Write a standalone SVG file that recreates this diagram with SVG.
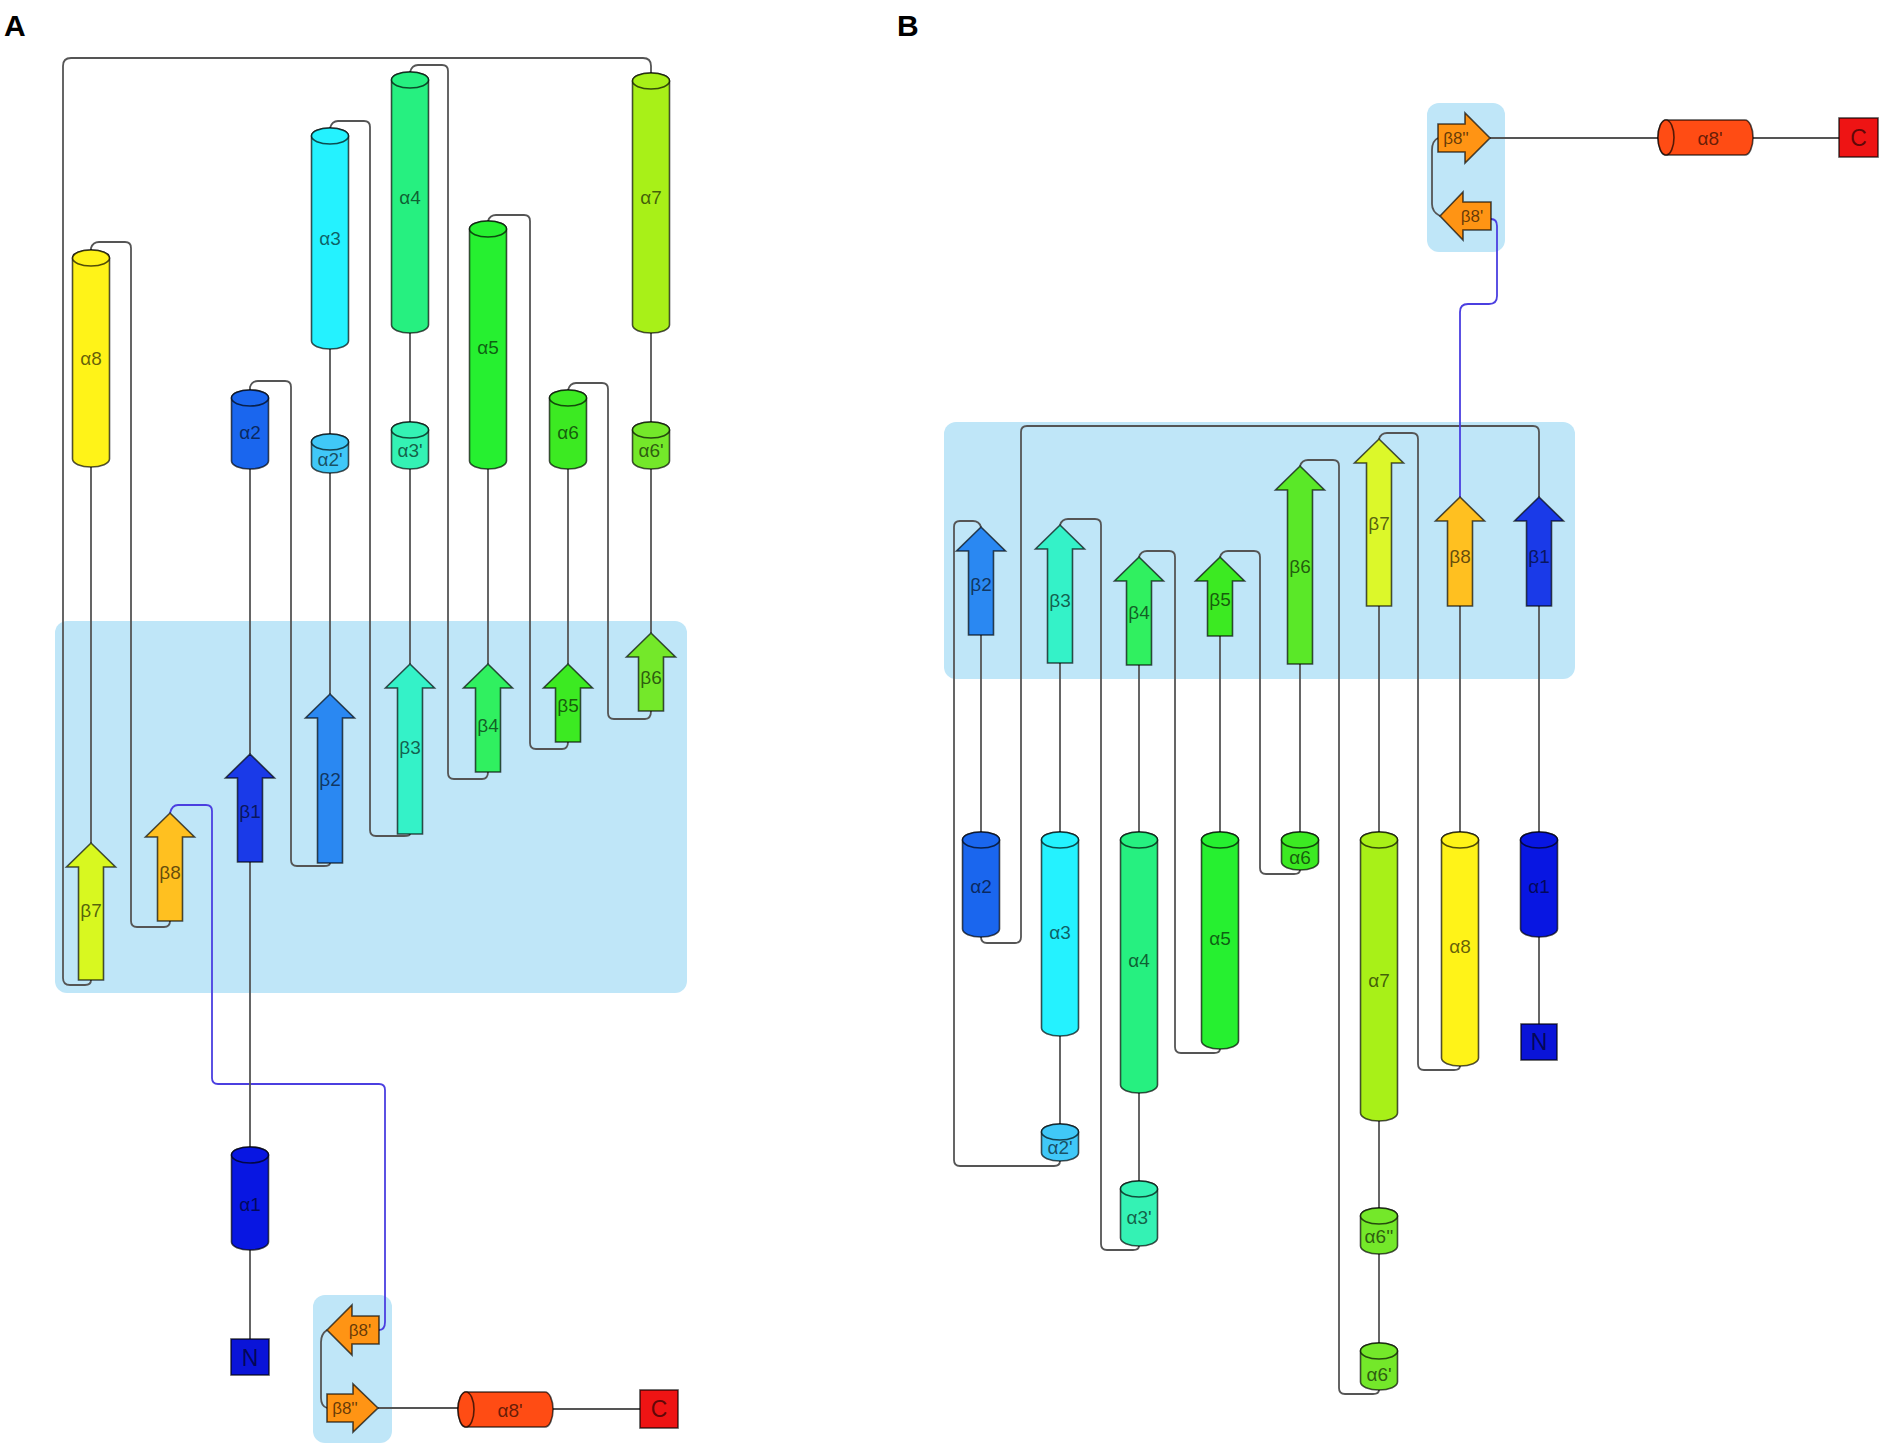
<svg xmlns="http://www.w3.org/2000/svg" width="1900" height="1450" viewBox="0 0 1900 1450">
<style>
.bg{fill:#ffffff}
.shade{fill:#bfe6f8}
.ln{fill:none;stroke:#555;stroke-width:1.8}
.bl{fill:none;stroke:#4b3fe0;stroke-width:1.8}
.sh{stroke:#000;stroke-opacity:.68;stroke-width:1.6}
.lb{font-family:"Liberation Sans",Arial,sans-serif;font-size:19px;text-anchor:middle;dominant-baseline:central;fill:#000;fill-opacity:.62}
.sm{font-size:17px}
.pl{font-family:"Liberation Sans",Arial,sans-serif;font-size:30px;font-weight:bold;fill:#000}
</style>
<rect class="bg" x="0" y="0" width="1900" height="1450"/>
<text class="pl" x="4" y="36">A</text>
<text class="pl" x="897" y="36">B</text>
<g id="shades">
<rect class="shade" x="55" y="621" width="632" height="372" rx="12"/>
<rect class="shade" x="313" y="1295" width="79" height="148" rx="12"/>
<rect class="shade" x="944" y="422" width="631" height="257" rx="12"/>
<rect class="shade" x="1427" y="103" width="78" height="149" rx="12"/>
</g>
<g id="connectors">
<path class="ln" d="M651,73 V66 Q651,58 643,58 H71 Q63,58 63,66 V978 Q63,985 70,985 H85 Q91,985 91,980"/>
<path class="ln" d="M91,250 V248 Q93,242 99,242 H125 Q131,242 131,248 V921 Q131,927 137,927 H164 Q170,927 170,921"/>
<path class="ln" d="M91,843 V467"/>
<path class="bl" d="M170,813 Q172,805 178,805 H206 Q212,805 212,811 V1078 Q212,1084 218,1084 H379 Q385,1084 385,1090 V1322 Q385,1330 379,1330"/>
<path class="ln" d="M250,1339 V1250 M250,1147 V862 M250,754 V469"/>
<path class="ln" d="M250,390 V387 Q252,381 258,381 H285 Q291,381 291,387 V860 Q291,866 297,866 H324 Q330,866 330,863"/>
<path class="ln" d="M330,694 V473 M330,434 V349"/>
<path class="ln" d="M330,128 Q332,121 338,121 H364 Q370,121 370,127 V830 Q370,836 376,836 H404 Q410,836 410,834"/>
<path class="ln" d="M410,664 V469 M410,422 V333"/>
<path class="ln" d="M410,72 Q412,65 418,65 H442 Q448,65 448,71 V773 Q448,779 454,779 H482 Q488,779 488,772"/>
<path class="ln" d="M488,664 V469"/>
<path class="ln" d="M488,221 Q490,215 496,215 H524 Q530,215 530,221 V743 Q530,749 536,749 H562 Q568,749 568,742"/>
<path class="ln" d="M568,664 V469"/>
<path class="ln" d="M568,390 Q570,383 576,383 H602 Q608,383 608,389 V713 Q608,719 614,719 H645 Q651,719 651,711"/>
<path class="ln" d="M651,633 V469 M651,422 V333"/>
<path class="ln" d="M327,1330 Q321,1334 321,1342 V1398 Q321,1406 327,1408"/>
<path class="ln" d="M378,1408 H458 M553,1409 H640"/>
<path class="ln" d="M1539,497 V432 Q1539,426 1533,426 H1027 Q1021,426 1021,432 V937 Q1021,943 1015,943 H987 Q981,943 981,937"/>
<path class="ln" d="M981,832 V635"/>
<path class="ln" d="M981,527 Q979,521 973,521 H960 Q954,521 954,527 V1160 Q954,1166 960,1166 H1054 Q1060,1166 1060,1161"/>
<path class="ln" d="M1060,1124 V1036 M1060,832 V663"/>
<path class="ln" d="M1060,525 Q1062,519 1068,519 H1095 Q1101,519 1101,525 V1244 Q1101,1250 1107,1250 H1133 Q1139,1250 1139,1246"/>
<path class="ln" d="M1139,1181 V1093 M1139,832 V665"/>
<path class="ln" d="M1139,557 Q1141,551 1147,551 H1169 Q1175,551 1175,557 V1047 Q1175,1053 1181,1053 H1214 Q1220,1053 1220,1049"/>
<path class="ln" d="M1220,832 V636"/>
<path class="ln" d="M1220,557 Q1222,551 1228,551 H1254 Q1260,551 1260,557 V868 Q1260,874 1266,874 H1294 Q1300,874 1300,870"/>
<path class="ln" d="M1300,832 V664"/>
<path class="ln" d="M1300,466 Q1302,460 1308,460 H1333 Q1339,460 1339,466 V1388 Q1339,1394 1345,1394 H1373 Q1379,1394 1379,1390"/>
<path class="ln" d="M1379,1343 V1254 M1379,1208 V1121 M1379,832 V606"/>
<path class="ln" d="M1379,439 Q1381,433 1387,433 H1412 Q1418,433 1418,439 V1064 Q1418,1070 1424,1070 H1454 Q1460,1070 1460,1066"/>
<path class="ln" d="M1460,832 V606"/>
<path class="bl" d="M1460,497 V312 Q1460,304 1468,304 H1489 Q1497,304 1497,296 V226 Q1497,219 1491,219"/>
<path class="ln" d="M1440,216 Q1432,212 1432,204 V150 Q1432,141 1438,138"/>
<path class="ln" d="M1490,138 H1658 M1753,138 H1839"/>
<path class="ln" d="M1539,606 V832 M1539,937 V1024"/>
</g>
<g id="A-a8" transform="translate(91,0)"><path class="sh" fill="#fff318" d="M-18.5,258 V459 A18.5,8 0 0 0 18.5,459 V258 A18.5,8 0 0 0 -18.5,258 Z"/><ellipse class="sh" fill="#fff318" cx="0" cy="258" rx="18.5" ry="8"/><text class="lb" x="0" y="358">α8</text></g>
<g id="A-a2" transform="translate(250,0)"><path class="sh" fill="#1a66ee" d="M-18.5,398 V461 A18.5,8 0 0 0 18.5,461 V398 A18.5,8 0 0 0 -18.5,398 Z"/><ellipse class="sh" fill="#1a66ee" cx="0" cy="398" rx="18.5" ry="8"/><text class="lb" x="0" y="432">α2</text></g>
<g id="A-a3" transform="translate(330,0)"><path class="sh" fill="#24f2ff" d="M-18.5,136 V341 A18.5,8 0 0 0 18.5,341 V136 A18.5,8 0 0 0 -18.5,136 Z"/><ellipse class="sh" fill="#24f2ff" cx="0" cy="136" rx="18.5" ry="8"/><text class="lb" x="0" y="238">α3</text></g>
<g id="A-a2p" transform="translate(330,0)"><path class="sh" fill="#40c8f8" d="M-18.5,442 V465 A18.5,8 0 0 0 18.5,465 V442 A18.5,8 0 0 0 -18.5,442 Z"/><ellipse class="sh" fill="#40c8f8" cx="0" cy="442" rx="18.5" ry="8"/><text class="lb" x="0" y="459">α2'</text></g>
<g id="A-a4" transform="translate(410,0)"><path class="sh" fill="#26f080" d="M-18.5,80 V325 A18.5,8 0 0 0 18.5,325 V80 A18.5,8 0 0 0 -18.5,80 Z"/><ellipse class="sh" fill="#26f080" cx="0" cy="80" rx="18.5" ry="8"/><text class="lb" x="0" y="197">α4</text></g>
<g id="A-a3p" transform="translate(410,0)"><path class="sh" fill="#34f2b4" d="M-18.5,430 V461 A18.5,8 0 0 0 18.5,461 V430 A18.5,8 0 0 0 -18.5,430 Z"/><ellipse class="sh" fill="#34f2b4" cx="0" cy="430" rx="18.5" ry="8"/><text class="lb" x="0" y="450">α3'</text></g>
<g id="A-a5" transform="translate(488,0)"><path class="sh" fill="#26f030" d="M-18.5,229 V461 A18.5,8 0 0 0 18.5,461 V229 A18.5,8 0 0 0 -18.5,229 Z"/><ellipse class="sh" fill="#26f030" cx="0" cy="229" rx="18.5" ry="8"/><text class="lb" x="0" y="347">α5</text></g>
<g id="A-a6" transform="translate(568,0)"><path class="sh" fill="#3cea22" d="M-18.5,398 V461 A18.5,8 0 0 0 18.5,461 V398 A18.5,8 0 0 0 -18.5,398 Z"/><ellipse class="sh" fill="#3cea22" cx="0" cy="398" rx="18.5" ry="8"/><text class="lb" x="0" y="432">α6</text></g>
<g id="A-a7" transform="translate(651,0)"><path class="sh" fill="#a8f018" d="M-18.5,81 V325 A18.5,8 0 0 0 18.5,325 V81 A18.5,8 0 0 0 -18.5,81 Z"/><ellipse class="sh" fill="#a8f018" cx="0" cy="81" rx="18.5" ry="8"/><text class="lb" x="0" y="197">α7</text></g>
<g id="A-a6p" transform="translate(651,0)"><path class="sh" fill="#74e82a" d="M-18.5,430 V461 A18.5,8 0 0 0 18.5,461 V430 A18.5,8 0 0 0 -18.5,430 Z"/><ellipse class="sh" fill="#74e82a" cx="0" cy="430" rx="18.5" ry="8"/><text class="lb" x="0" y="450">α6'</text></g>
<g id="A-a1" transform="translate(250,0)"><path class="sh" fill="#0816e2" d="M-18.5,1155 V1242 A18.5,8 0 0 0 18.5,1242 V1155 A18.5,8 0 0 0 -18.5,1155 Z"/><ellipse class="sh" fill="#0816e2" cx="0" cy="1155" rx="18.5" ry="8"/><text class="lb" x="0" y="1204">α1</text></g>
<g id="A-b7" transform="translate(91,0)"><path class="sh" fill="#d8f820" d="M0,843 L24.5,867 L12.5,867 L12.5,980 L-12.5,980 L-12.5,867 L-24.5,867 Z"/><text class="lb" x="0" y="910">β7</text></g>
<g id="A-b8" transform="translate(170,0)"><path class="sh" fill="#ffc020" d="M0,813 L24.5,837 L12.5,837 L12.5,921 L-12.5,921 L-12.5,837 L-24.5,837 Z"/><text class="lb" x="0" y="872">β8</text></g>
<g id="A-b1" transform="translate(250,0)"><path class="sh" fill="#1a3ae8" d="M0,754 L24.5,778 L12.5,778 L12.5,862 L-12.5,862 L-12.5,778 L-24.5,778 Z"/><text class="lb" x="0" y="811">β1</text></g>
<g id="A-b2" transform="translate(330,0)"><path class="sh" fill="#2a88f2" d="M0,694 L24.5,718 L12.5,718 L12.5,863 L-12.5,863 L-12.5,718 L-24.5,718 Z"/><text class="lb" x="0" y="779">β2</text></g>
<g id="A-b3" transform="translate(410,0)"><path class="sh" fill="#34f2c8" d="M0,664 L24.5,688 L12.5,688 L12.5,834 L-12.5,834 L-12.5,688 L-24.5,688 Z"/><text class="lb" x="0" y="747">β3</text></g>
<g id="A-b4" transform="translate(488,0)"><path class="sh" fill="#30f060" d="M0,664 L24.5,688 L12.5,688 L12.5,772 L-12.5,772 L-12.5,688 L-24.5,688 Z"/><text class="lb" x="0" y="725">β4</text></g>
<g id="A-b5" transform="translate(568,0)"><path class="sh" fill="#3cea22" d="M0,664 L24.5,688 L12.5,688 L12.5,742 L-12.5,742 L-12.5,688 L-24.5,688 Z"/><text class="lb" x="0" y="705">β5</text></g>
<g id="A-b6" transform="translate(651,0)"><path class="sh" fill="#74e82a" d="M0,633 L24.5,657 L12.5,657 L12.5,711 L-12.5,711 L-12.5,657 L-24.5,657 Z"/><text class="lb" x="0" y="677">β6</text></g>
<g id="A-b8p"><path class="sh" fill="#ff9414" d="M327,1330 L352,1305 L352,1316 L379,1316 L379,1344 L352,1344 L352,1355 Z"/><text class="lb sm" x="360" y="1330">β8'</text></g>
<g id="A-b8pp"><path class="sh" fill="#ff9414" d="M378,1408 L353,1384 L353,1394 L327,1394 L327,1422 L353,1422 L353,1432 Z"/><text class="lb sm" x="345" y="1408">β8''</text></g>
<g id="A-a8p"><path class="sh" fill="#ff4c14" d="M466,1392 H545 A8,17.5 0 0 1 545,1427 H466 A8,17.5 0 0 1 466,1392 Z"/><ellipse class="sh" fill="#ff4c14" cx="466" cy="1409.5" rx="8" ry="17.5"/><text class="lb" x="510" y="1410">α8'</text></g>
<g id="A-N"><rect class="sh" fill="#0a14d8" x="231" y="1339" width="38" height="36"/><text class="lb" x="250" y="1358" style="font-size:23px">N</text></g>
<g id="A-C"><rect class="sh" fill="#ee1414" x="640" y="1390" width="38" height="38"/><text class="lb" x="659" y="1409" style="font-size:23px">C</text></g>
<g id="B-a2" transform="translate(981,0)"><path class="sh" fill="#1a66ee" d="M-18.5,840 V929 A18.5,8 0 0 0 18.5,929 V840 A18.5,8 0 0 0 -18.5,840 Z"/><ellipse class="sh" fill="#1a66ee" cx="0" cy="840" rx="18.5" ry="8"/><text class="lb" x="0" y="886">α2</text></g>
<g id="B-a3" transform="translate(1060,0)"><path class="sh" fill="#24f2ff" d="M-18.5,840 V1028 A18.5,8 0 0 0 18.5,1028 V840 A18.5,8 0 0 0 -18.5,840 Z"/><ellipse class="sh" fill="#24f2ff" cx="0" cy="840" rx="18.5" ry="8"/><text class="lb" x="0" y="932">α3</text></g>
<g id="B-a2p" transform="translate(1060,0)"><path class="sh" fill="#40c8f8" d="M-18.5,1132 V1153 A18.5,8 0 0 0 18.5,1153 V1132 A18.5,8 0 0 0 -18.5,1132 Z"/><ellipse class="sh" fill="#40c8f8" cx="0" cy="1132" rx="18.5" ry="8"/><text class="lb" x="0" y="1147">α2'</text></g>
<g id="B-a4" transform="translate(1139,0)"><path class="sh" fill="#26f080" d="M-18.5,840 V1085 A18.5,8 0 0 0 18.5,1085 V840 A18.5,8 0 0 0 -18.5,840 Z"/><ellipse class="sh" fill="#26f080" cx="0" cy="840" rx="18.5" ry="8"/><text class="lb" x="0" y="960">α4</text></g>
<g id="B-a3p" transform="translate(1139,0)"><path class="sh" fill="#34f2b4" d="M-18.5,1189 V1238 A18.5,8 0 0 0 18.5,1238 V1189 A18.5,8 0 0 0 -18.5,1189 Z"/><ellipse class="sh" fill="#34f2b4" cx="0" cy="1189" rx="18.5" ry="8"/><text class="lb" x="0" y="1217">α3'</text></g>
<g id="B-a5" transform="translate(1220,0)"><path class="sh" fill="#26f030" d="M-18.5,840 V1041 A18.5,8 0 0 0 18.5,1041 V840 A18.5,8 0 0 0 -18.5,840 Z"/><ellipse class="sh" fill="#26f030" cx="0" cy="840" rx="18.5" ry="8"/><text class="lb" x="0" y="938">α5</text></g>
<g id="B-a6" transform="translate(1300,0)"><path class="sh" fill="#3cea22" d="M-18.5,840 V862 A18.5,8 0 0 0 18.5,862 V840 A18.5,8 0 0 0 -18.5,840 Z"/><ellipse class="sh" fill="#3cea22" cx="0" cy="840" rx="18.5" ry="8"/><text class="lb" x="0" y="857">α6</text></g>
<g id="B-a7" transform="translate(1379,0)"><path class="sh" fill="#a8f018" d="M-18.5,840 V1113 A18.5,8 0 0 0 18.5,1113 V840 A18.5,8 0 0 0 -18.5,840 Z"/><ellipse class="sh" fill="#a8f018" cx="0" cy="840" rx="18.5" ry="8"/><text class="lb" x="0" y="980">α7</text></g>
<g id="B-a6pp" transform="translate(1379,0)"><path class="sh" fill="#74e82a" d="M-18.5,1216 V1246 A18.5,8 0 0 0 18.5,1246 V1216 A18.5,8 0 0 0 -18.5,1216 Z"/><ellipse class="sh" fill="#74e82a" cx="0" cy="1216" rx="18.5" ry="8"/><text class="lb" x="0" y="1236">α6''</text></g>
<g id="B-a6p" transform="translate(1379,0)"><path class="sh" fill="#74e82a" d="M-18.5,1351 V1382 A18.5,8 0 0 0 18.5,1382 V1351 A18.5,8 0 0 0 -18.5,1351 Z"/><ellipse class="sh" fill="#74e82a" cx="0" cy="1351" rx="18.5" ry="8"/><text class="lb" x="0" y="1374">α6'</text></g>
<g id="B-a8" transform="translate(1460,0)"><path class="sh" fill="#fff318" d="M-18.5,840 V1058 A18.5,8 0 0 0 18.5,1058 V840 A18.5,8 0 0 0 -18.5,840 Z"/><ellipse class="sh" fill="#fff318" cx="0" cy="840" rx="18.5" ry="8"/><text class="lb" x="0" y="946">α8</text></g>
<g id="B-a1" transform="translate(1539,0)"><path class="sh" fill="#0816e2" d="M-18.5,840 V929 A18.5,8 0 0 0 18.5,929 V840 A18.5,8 0 0 0 -18.5,840 Z"/><ellipse class="sh" fill="#0816e2" cx="0" cy="840" rx="18.5" ry="8"/><text class="lb" x="0" y="886">α1</text></g>
<g id="B-b2" transform="translate(981,0)"><path class="sh" fill="#2a88f2" d="M0,527 L24.5,551 L12.5,551 L12.5,635 L-12.5,635 L-12.5,551 L-24.5,551 Z"/><text class="lb" x="0" y="584">β2</text></g>
<g id="B-b3" transform="translate(1060,0)"><path class="sh" fill="#34f2c8" d="M0,525 L24.5,549 L12.5,549 L12.5,663 L-12.5,663 L-12.5,549 L-24.5,549 Z"/><text class="lb" x="0" y="600">β3</text></g>
<g id="B-b4" transform="translate(1139,0)"><path class="sh" fill="#30f060" d="M0,557 L24.5,581 L12.5,581 L12.5,665 L-12.5,665 L-12.5,581 L-24.5,581 Z"/><text class="lb" x="0" y="612">β4</text></g>
<g id="B-b5" transform="translate(1220,0)"><path class="sh" fill="#3cea22" d="M0,557 L24.5,581 L12.5,581 L12.5,636 L-12.5,636 L-12.5,581 L-24.5,581 Z"/><text class="lb" x="0" y="599">β5</text></g>
<g id="B-b6" transform="translate(1300,0)"><path class="sh" fill="#5ae828" d="M0,466 L24.5,490 L12.5,490 L12.5,664 L-12.5,664 L-12.5,490 L-24.5,490 Z"/><text class="lb" x="0" y="566">β6</text></g>
<g id="B-b7" transform="translate(1379,0)"><path class="sh" fill="#dcf82a" d="M0,439 L24.5,463 L12.5,463 L12.5,606 L-12.5,606 L-12.5,463 L-24.5,463 Z"/><text class="lb" x="0" y="523">β7</text></g>
<g id="B-b8" transform="translate(1460,0)"><path class="sh" fill="#ffc020" d="M0,497 L24.5,521 L12.5,521 L12.5,606 L-12.5,606 L-12.5,521 L-24.5,521 Z"/><text class="lb" x="0" y="556">β8</text></g>
<g id="B-b1" transform="translate(1539,0)"><path class="sh" fill="#1a3ae8" d="M0,497 L24.5,521 L12.5,521 L12.5,606 L-12.5,606 L-12.5,521 L-24.5,521 Z"/><text class="lb" x="0" y="556">β1</text></g>
<g id="B-b8pp"><path class="sh" fill="#ff9414" d="M1490,138 L1465,113 L1465,124 L1438,124 L1438,152 L1465,152 L1465,163 Z"/><text class="lb sm" x="1456" y="138">β8''</text></g>
<g id="B-b8p"><path class="sh" fill="#ff9414" d="M1440,216 L1463,192 L1463,202 L1491,202 L1491,230 L1463,230 L1463,240 Z"/><text class="lb sm" x="1472" y="216">β8'</text></g>
<g id="B-a8p"><path class="sh" fill="#ff4c14" d="M1666,120 H1745 A8,17.5 0 0 1 1745,155 H1666 A8,17.5 0 0 1 1666,120 Z"/><ellipse class="sh" fill="#ff4c14" cx="1666" cy="137.5" rx="8" ry="17.5"/><text class="lb" x="1710" y="138">α8'</text></g>
<g id="B-N"><rect class="sh" fill="#0a14d8" x="1521" y="1024" width="36" height="36"/><text class="lb" x="1539" y="1042" style="font-size:23px">N</text></g>
<g id="B-C"><rect class="sh" fill="#ee1414" x="1839" y="118" width="39" height="39"/><text class="lb" x="1858.5" y="137.5" style="font-size:23px">C</text></g>
</svg>
